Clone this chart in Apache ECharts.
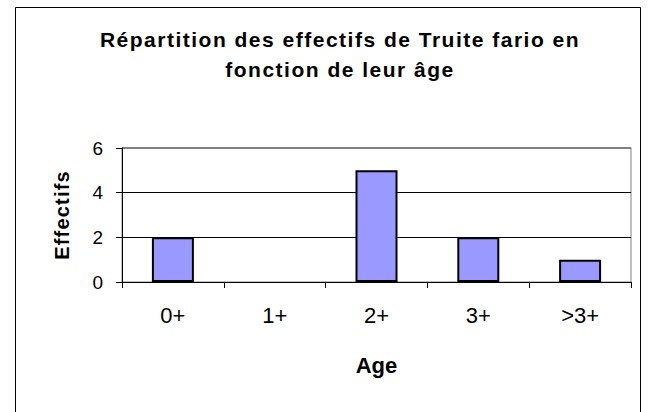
<!DOCTYPE html>
<html><head><meta charset="utf-8">
<script src="https://cdn.jsdelivr.net/npm/echarts@6/dist/echarts.min.js"></script>
<style>html,body{margin:0;padding:0;background:#fff}#c{width:654px;height:412px}</style>
</head><body><div id="c"></div>
<script>
const categories = ['0+', '1+', '2+', '3+', '>3+'];
const effectifs = [2, 0, 5, 2, 1];
const yTicks = [0, 2, 4, 6];
const titleLines = ['Répartition des effectifs de Truite fario en', 'fonction de leur âge'];
const xName = 'Age';
const yName = 'Effectifs';

const FONT = 'Liberation Sans, Arial, sans-serif';
const chart = echarts.init(document.getElementById('c'), null, { renderer: 'svg' });
chart.setOption({
  animation: false,
  backgroundColor: '#ffffff',
  textStyle: { fontFamily: FONT },
  graphic: [{
    type: 'rect', shape: { x: 15.5, y: 7.5, width: 625, height: 420 },
    style: { fill: 'none', stroke: '#000', lineWidth: 1 }, z: -1
  }, {
    type: 'rect', shape: { x: 122, y: 147.5, width: 509, height: 134.5 },
    style: { fill: 'none', stroke: '#808080', lineWidth: 1 }, z: 0
  }],
  title: {
    text: titleLines.join('\n'), left: 335, top: 19, textAlign: 'center',
    textStyle: { fontSize: 21, fontWeight: 'bold', color: '#000', lineHeight: 30, fontFamily: FONT }
  },
  grid: { left: 122, top: 148, width: 509, height: 134, containLabel: false, show: false },
  xAxis: {
    type: 'category', data: categories,
    name: xName, nameLocation: 'middle', nameGap: 72,
    nameTextStyle: { fontSize: 22, fontWeight: 'bold', color: '#000', fontFamily: FONT },
    axisLine: { lineStyle: { color: '#000', width: 1 } },
    axisTick: { show: true, alignWithLabel: false, length: 6, lineStyle: { color: '#000' } },
    axisLabel: { fontSize: 22, color: '#000', margin: 22, fontFamily: FONT }
  },
  yAxis: {
    type: 'value', min: 0, max: 6, interval: 2,
    name: yName, nameLocation: 'middle', nameGap: 50, nameRotate: 90,
    nameTextStyle: { fontSize: 20, fontWeight: 'bold', color: '#000', fontFamily: FONT },
    axisLine: { show: true, lineStyle: { color: '#000', width: 1 } },
    axisTick: { show: true, length: 6, lineStyle: { color: '#000' } },
    axisLabel: { fontSize: 19, color: '#000', margin: 19, fontFamily: FONT,
      formatter: v => yTicks.includes(v) ? String(v) : '' },
    splitLine: { show: true, lineStyle: { color: ['#000', '#000', '#000', '#808080'], width: 1 } }
  },
  series: [{
    type: 'bar',
    data: effectifs.map(v => v === 0 ? { value: v, itemStyle: { borderWidth: 0 } } : v),
    barWidth: 42,
    itemStyle: { color: '#9999FF', borderColor: '#000', borderWidth: 2 }
  }]
});
// Excel-like wide letter spacing for title and y-axis name
document.querySelectorAll('#c text').forEach(t => {
  const s = t.textContent;
  if (titleLines.includes(s)) t.style.letterSpacing = '1.5px';
  else if (s === yName) t.style.letterSpacing = '1.2px';
});
</script></body></html>
